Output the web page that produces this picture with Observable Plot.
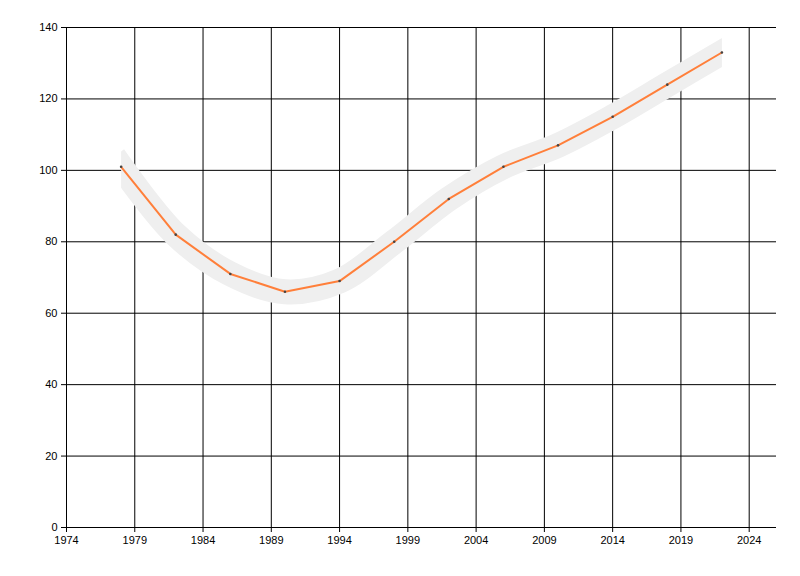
<!DOCTYPE html>
<html>
<head>
<meta charset="utf-8">
<script src="https://cdn.jsdelivr.net/npm/d3@7"></script>
<script src="https://cdn.jsdelivr.net/npm/@observablehq/plot@0.6"></script>
<style>
  body { margin: 0; background: #fff; }
  #chart svg { display: block; }
</style>
</head>
<body>
<div id="chart"></div>
<script>
  const years = [1978, 1982, 1986, 1990, 1994, 1998, 2002, 2006, 2010, 2014, 2018, 2022];
  const values = [101, 82, 71, 66, 69, 80, 92, 101, 107, 115, 124, 133];
  const xTicks = [1974, 1979, 1984, 1989, 1994, 1999, 2004, 2009, 2014, 2019, 2024];
  const yTicks = [0, 20, 40, 60, 80, 100, 120, 140];

  const data = years.map((y, i) => ({year: y, value: values[i]}));

  const chart = Plot.plot({
    width: 800,
    height: 576,
    marginLeft: 66,
    marginTop: 27,
    marginBottom: 49,
    marginRight: 24,
    style: {fontFamily: "Liberation Sans, Arial, sans-serif", fontSize: "11px", color: "#000"},
    x: {domain: [1974, 2026], label: null},
    y: {domain: [0, 140], label: null},
    marks: [
      Plot.ruleX(xTicks, {stroke: "#000", strokeWidth: 1}),
      Plot.ruleY(yTicks, {stroke: "#000", strokeWidth: 1, x1: 1974, x2: 2026}),
      Plot.line(data, {x: "year", y: "value", curve: "catmull-rom", stroke: "#efefef", strokeWidth: 25, strokeLinecap: "square", className: "band"}),
      Plot.line(data, {x: "year", y: "value", stroke: "#ff7f3a", strokeWidth: 2}),
      Plot.dot(data, {x: "year", y: "value", r: 1.3, fill: "#444", stroke: null}),
      Plot.axisX({ticks: xTicks, tickFormat: d => String(d), tickSize: 5, label: null}),
      Plot.axisY({ticks: yTicks, tickSize: 5, label: null})
    ]
  });

  // cut the band's ends vertically at the first and last year
  const x = chart.scale("x");
  const x0 = x.apply(d3.min(years)), x1 = x.apply(d3.max(years));
  const svg = d3.select(chart);
  svg.append("defs").append("clipPath").attr("id", "band-clip")
    .append("rect").attr("x", x0).attr("y", 0).attr("width", x1 - x0).attr("height", 576);
  svg.select("g.band").attr("clip-path", "url(#band-clip)");

  d3.select("#chart").append(() => chart);
</script>
</body>
</html>
